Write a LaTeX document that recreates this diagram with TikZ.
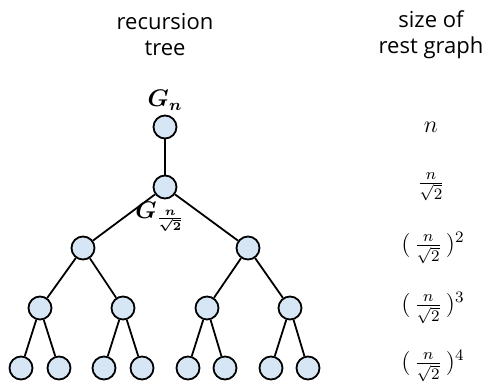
\documentclass[tikz,border=0pt]{standalone}
\usepackage{xcolor}
\usepackage{tikz}
\usepackage{amsmath}
\usepackage{bm}
\usepackage{fontspec}
\setsansfont{Open Sans}
\definecolor{nodefill}{RGB}{214,230,245}

\begin{document}
\begin{tikzpicture}[x=0.5pt, y=-0.5pt,
    vertex/.style={circle, draw, line width=0.9pt, fill=nodefill, minimum size=11.5pt, inner sep=0pt},
    edge/.style={line width=0.9pt},
    head/.style={font=\sffamily\fontsize{11}{13}\selectfont, align=center},
    size/.style={font=\large, inner sep=0.5pt}
]
\useasboundingbox (0,0) rectangle (486,385);

\node[head] (h1) at (165,35) {recursion\\tree};
\node[head] (h2) at (431,35) {size of\\rest graph};

% tree
\node[vertex] (r) at (165,127) {};
\node[vertex] (a) at (165,187) {};
\node[vertex] (b1) at (83,248) {};
\node[vertex] (b2) at (248,248) {};
\node[vertex] (c1) at (40,308) {};
\node[vertex] (c2) at (123,308) {};
\node[vertex] (c3) at (207,308) {};
\node[vertex] (c4) at (290,308) {};
\node[vertex] (d1) at (21,368) {};
\node[vertex] (d2) at (59,368) {};
\node[vertex] (d3) at (104,368) {};
\node[vertex] (d4) at (142,368) {};
\node[vertex] (d5) at (188,368) {};
\node[vertex] (d6) at (225,368) {};
\node[vertex] (d7) at (271,368) {};
\node[vertex] (d8) at (308,368) {};

\draw[edge] (r) -- (a);
\draw[edge] (a) -- (b1);
\draw[edge] (a) -- (b2);
\draw[edge] (b1) -- (c1);
\draw[edge] (b1) -- (c2);
\draw[edge] (b2) -- (c3);
\draw[edge] (b2) -- (c4);
\draw[edge] (c1) -- (d1);
\draw[edge] (c1) -- (d2);
\draw[edge] (c2) -- (d3);
\draw[edge] (c2) -- (d4);
\draw[edge] (c3) -- (d5);
\draw[edge] (c3) -- (d6);
\draw[edge] (c4) -- (d7);
\draw[edge] (c4) -- (d8);

\node[size] (gn) at (165,100) {$\bm{G_n}$};
\node[size] (gsub) at (160,217) {$\bm{G_{\frac{n}{\sqrt{2}}}}$};

% sizes
\node[size] (s0) at (431,127) {$n$};
\node[size] (s1) at (431,187) {$\frac{n}{\sqrt{2}}$};
\node[size] (s2) at (433,248) {$(\,\frac{n}{\sqrt{2}}\,)^2$};
\node[size] (s3) at (433,308) {$(\,\frac{n}{\sqrt{2}}\,)^3$};
\node[size] (s4) at (433,366) {$(\,\frac{n}{\sqrt{2}}\,)^4$};
\end{tikzpicture}
\end{document}
